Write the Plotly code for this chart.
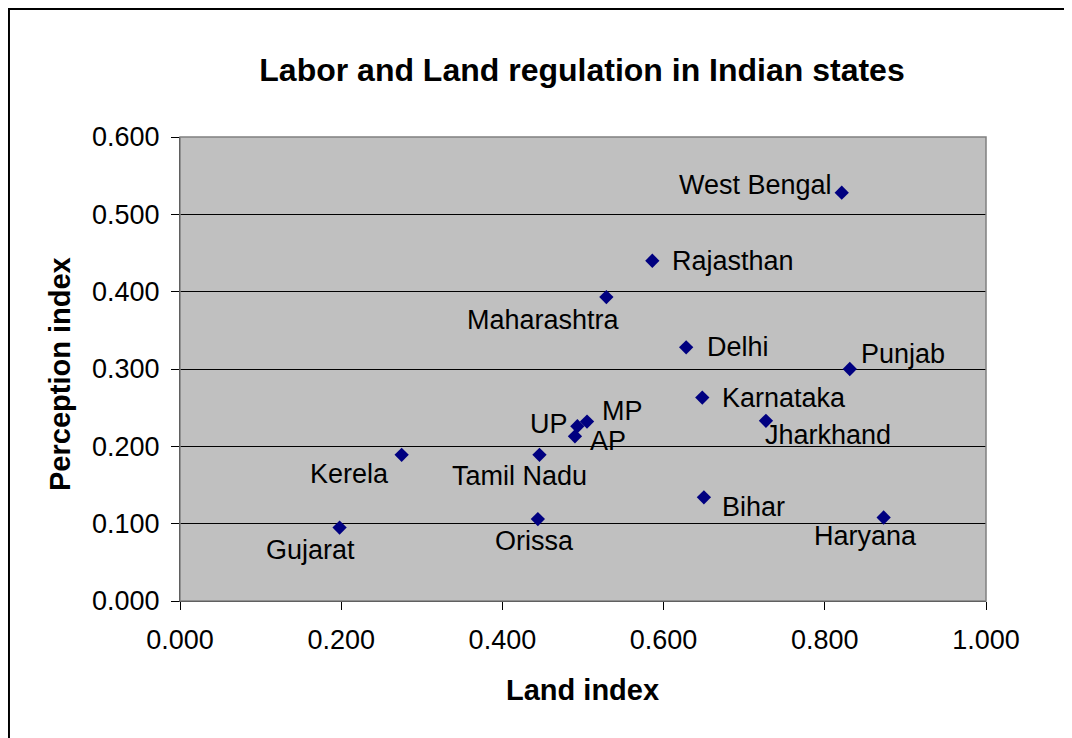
import plotly.graph_objects as go

states = ["West Bengal", "Rajasthan", "Maharashtra", "Delhi", "Punjab", "Karnataka",
          "Jharkhand", "MP", "UP", "AP", "Kerela", "Tamil Nadu", "Bihar", "Haryana",
          "Gujarat", "Orissa"]
land_index = [0.821, 0.586, 0.529, 0.628, 0.831, 0.648, 0.727, 0.505, 0.493, 0.490,
              0.275, 0.446, 0.650, 0.873, 0.198, 0.444]
perception_index = [0.528, 0.440, 0.393, 0.328, 0.300, 0.263, 0.233, 0.232, 0.226, 0.213,
                    0.189, 0.189, 0.134, 0.108, 0.095, 0.106]
x_ticks = [0.0, 0.2, 0.4, 0.6, 0.8, 1.0]
y_ticks = [0.0, 0.1, 0.2, 0.3, 0.4, 0.5, 0.6]

# label placement: (xanchor, xshift, yshift)
label_pos = {
    "West Bengal": ("right", -8, 8),
    "Rajasthan": ("left", 18, 0),
    "Maharashtra": ("right", 16, -23),
    "Delhi": ("left", 19, 0),
    "Punjab": ("left", 9, 15),
    "Karnataka": ("left", 18, 0),
    "Jharkhand": ("left", -3, -14),
    "MP": ("left", 13, 11),
    "UP": ("right", -7, 2),
    "AP": ("left", 13, -5),
    "Kerela": ("right", -11, -19),
    "Tamil Nadu": ("center", -20, -21),
    "Bihar": ("left", 16, -10),
    "Haryana": ("center", -18, -19),
    "Gujarat": ("center", -29, -22),
    "Orissa": ("center", -3, -22),
}

FONT = "Liberation Sans, Arial, sans-serif"

fig = go.Figure()
fig.add_trace(go.Scatter(
    x=land_index, y=perception_index, mode="markers",
    marker=dict(symbol="diamond", size=11, color="#000080", line=dict(width=0)),
    showlegend=False, hoverinfo="text", text=states,
))

annotations = []
for s, xv, yv in zip(states, land_index, perception_index):
    xa, xs, ys = label_pos[s]
    annotations.append(dict(
        x=xv, y=yv, xref="x", yref="y", text=s, showarrow=False,
        xanchor=xa, yanchor="middle", xshift=xs, yshift=ys,
        font=dict(family=FONT, size=27, color="black"),
    ))

annotations.append(dict(
    x=0.499, y=-0.192, xref="paper", yref="paper", text="<b>Land index</b>",
    showarrow=False, xanchor="center", yanchor="middle",
    font=dict(family=FONT, size=29, color="black"),
))
annotations.append(dict(
    x=-0.149, y=0.489, xref="paper", yref="paper", text="<b>Perception index</b>",
    showarrow=False, xanchor="center", yanchor="middle", textangle=-90,
    font=dict(family=FONT, size=29, color="black"),
))

fig.update_layout(
    width=1064, height=730,
    margin=dict(l=172, r=86, t=129, b=137),
    paper_bgcolor="white", plot_bgcolor="#C0C0C0",
    title=dict(text="<b>Labor and Land regulation in Indian states</b>",
               x=(582 - 8) / 1064, y=1 - (70 - 8) / 730, xref="container", yref="container",
               xanchor="center", yanchor="middle",
               font=dict(family=FONT, size=32, color="black")),
    annotations=annotations,
    shapes=[
        dict(type="rect", xref="paper", yref="paper", x0=0, x1=1, y0=0, y1=1,
             line=dict(color="#808080", width=1.5), layer="above"),
        dict(type="rect", xref="paper", yref="paper", x0=-0.2122, x1=1.1017,
             y0=-0.35, y1=1.2759, line=dict(color="black", width=2)),
    ],
)

fig.update_xaxes(
    range=[0, 1], tickvals=x_ticks, tickformat=".3f",
    showgrid=False, zeroline=False,
    showline=True, linecolor="black", linewidth=1,
    ticks="outside", ticklen=8, tickcolor="black", ticklabelstandoff=7,
    tickfont=dict(family=FONT, size=27, color="black"),
)
fig.update_yaxes(
    range=[0, 0.6], tickvals=y_ticks, tickformat=".3f",
    showgrid=True, gridcolor="black", gridwidth=1, zeroline=False,
    showline=True, linecolor="black", linewidth=1,
    ticks="outside", ticklen=8, tickcolor="black", ticklabelstandoff=6,
    tickfont=dict(family=FONT, size=27, color="black"),
)

fig.write_html("out.html")
